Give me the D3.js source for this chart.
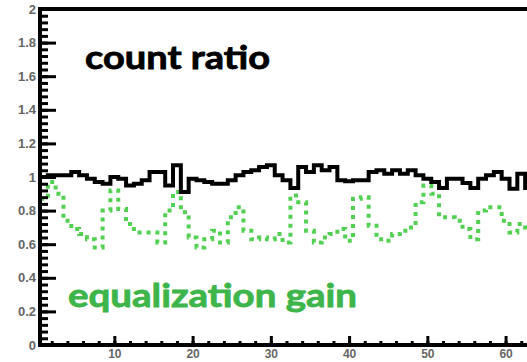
<!DOCTYPE html>
<html><head><meta charset="utf-8">
<script src="https://cdn.jsdelivr.net/npm/d3@7"></script>
<style>html,body{margin:0;padding:0;background:#fff;overflow:hidden}</style>
</head><body>
<svg id="c" width="527" height="362"></svg>
<script>
const channels = [1,2,3,4,5,6,7,8,9,10,11,12,13,14,15,16,17,18,19,20,21,22,23,24,25,26,27,28,29,30,31,32,
  33,34,35,36,37,38,39,40,41,42,43,44,45,46,47,48,49,50,51,52,53,54,55,56,57,58,59,60,61,62,63,64];
const countRatio = [1.00,1.01,1.01,1.01,1.03,1.01,0.99,0.97,0.96,1.00,0.99,0.95,0.96,0.98,1.03,1.03,
  0.95,1.07,0.91,0.99,0.98,0.97,0.96,0.96,0.98,1.01,1.03,1.04,1.06,1.07,1.01,0.98,
  0.935,1.06,1.03,1.07,1.04,1.06,0.98,0.975,0.98,0.98,1.03,1.04,1.02,1.04,1.02,1.04,
  1.01,0.99,0.97,0.935,0.99,0.99,0.965,0.935,0.99,1.01,1.03,0.99,0.93,1.02,0.935,0.98];
const equalizationGain = [0.87,0.97,0.90,0.74,0.69,0.66,0.63,0.58,0.80,0.92,0.81,0.72,0.67,0.67,0.67,0.61,
  0.80,0.91,0.79,0.64,0.58,0.63,0.68,0.61,0.76,0.82,0.68,0.63,0.64,0.63,0.66,0.61,
  0.89,0.85,0.68,0.61,0.64,0.66,0.69,0.62,0.87,0.88,0.71,0.63,0.62,0.66,0.68,0.70,
  0.85,0.95,0.90,0.76,0.76,0.74,0.69,0.63,0.80,0.82,0.82,0.74,0.67,0.72,0.67,0.70];
const yMajorTicks = [0,0.2,0.4,0.6,0.8,1,1.2,1.4,1.6,1.8,2];
const yTickLabels = ["0","0.2","0.4","0.6","0.8","1","1.2","1.4","1.6","1.8","2"];
const xMajorTicks = [10,20,30,40,50,60];
const xTickLabels = ["10","20","30","40","50","60"];
const labelCount = "count ratio";
const labelGain = "equalization gain";

const svg = d3.select("#c");
const L = 40, R = 540.8, T = 9, B = 345;
const x = d3.scaleLinear().domain([0.5, 64.5]).range([L, R]);
const y = d3.scaleLinear().domain([0, 2]).range([B, T]);

function stepPath(vals) {
  let p = "";
  vals.forEach((v, i) => {
    const c = channels[i];
    const x0 = x(c - 0.5), x1 = x(c + 0.5), yy = y(v);
    p += (i === 0 ? "M" + x0 + "," + yy : "V" + yy) + "H" + x1;
  });
  return p;
}

svg.append("defs").append("clipPath").attr("id","clip")
  .append("rect").attr("x", L).attr("y", T).attr("width", R - L).attr("height", B - T);

const plot = svg.append("g").attr("clip-path","url(#clip)");
plot.append("path").attr("d", stepPath(equalizationGain))
  .attr("fill","none").attr("stroke","#52d052").attr("stroke-width",4)
  .attr("stroke-dasharray","4,5");
plot.append("path").attr("d", stepPath(countRatio))
  .attr("fill","none").attr("stroke","#000").attr("stroke-width",4)
  .attr("stroke-linejoin","miter");

// Y axis minor ticks
const yMinor = d3.range(0, 2.0001, 0.04);
svg.append("g").attr("transform", `translate(${L},0)`)
  .call(d3.axisLeft(y).tickValues(yMinor).tickSize(-8).tickFormat(""))
  .call(g => g.select(".domain").remove())
  .call(g => g.selectAll("line").attr("stroke","#000").attr("stroke-width",3));
// Y axis major ticks + labels
svg.append("g").attr("transform", `translate(${L},0)`)
  .call(d3.axisLeft(y).tickValues(yMajorTicks).tickSize(-16).tickPadding(4)
    .tickFormat((d,i) => yTickLabels[i]))
  .call(g => g.select(".domain").remove())
  .call(g => g.selectAll("line").attr("stroke","#000").attr("stroke-width",3))
  .call(g => g.selectAll("text").attr("fill","#666").attr("font-size",13)
    .attr("font-family","Liberation Sans, Arial, sans-serif").attr("font-weight","bold"));

// X axis minor ticks
const xMinor = d3.range(2, 65, 2);
svg.append("g").attr("transform", `translate(0,${B})`)
  .call(d3.axisBottom(x).tickValues(xMinor).tickSize(-4).tickFormat(""))
  .call(g => g.select(".domain").remove())
  .call(g => g.selectAll("line").attr("stroke","#000").attr("stroke-width",3));
svg.append("g").attr("transform", `translate(0,${B})`)
  .call(d3.axisBottom(x).tickValues(xMajorTicks).tickSize(-9).tickPadding(4)
    .tickFormat((d,i) => xTickLabels[i]))
  .call(g => g.select(".domain").remove())
  .call(g => g.selectAll("line").attr("stroke","#000").attr("stroke-width",3))
  .call(g => g.selectAll("text").attr("fill","#666").attr("font-size",12)
    .attr("font-family","Liberation Sans, Arial, sans-serif").attr("font-weight","bold"));

// Frame
svg.append("line").attr("x1", L).attr("x2", L).attr("y1", T - 2).attr("y2", B + 2)
  .attr("stroke","#000").attr("stroke-width",4);
svg.append("line").attr("x1", L - 2).attr("x2", 527).attr("y1", B).attr("y2", B)
  .attr("stroke","#000").attr("stroke-width",4);
svg.append("line").attr("x1", L - 2).attr("x2", 527).attr("y1", T).attr("y2", T)
  .attr("stroke","#000").attr("stroke-width",4);

// Labels
svg.append("text").attr("x", 85).attr("y", 69).text(labelCount)
  .attr("font-family","Lato, 'Open Sans', sans-serif").attr("font-weight","bold")
  .attr("font-size",32).attr("fill","#000").attr("stroke","#000").attr("stroke-width",0.8)
  .attr("textLength",185).attr("lengthAdjust","spacingAndGlyphs");
svg.append("text").attr("x", 68).attr("y", 307).text(labelGain)
  .attr("font-family","Lato, 'Open Sans', sans-serif").attr("font-weight","bold")
  .attr("font-size",32).attr("fill","#3db54a").attr("stroke","#3db54a").attr("stroke-width",0.8)
  .attr("textLength",289).attr("lengthAdjust","spacingAndGlyphs");
</script>
</body></html>
